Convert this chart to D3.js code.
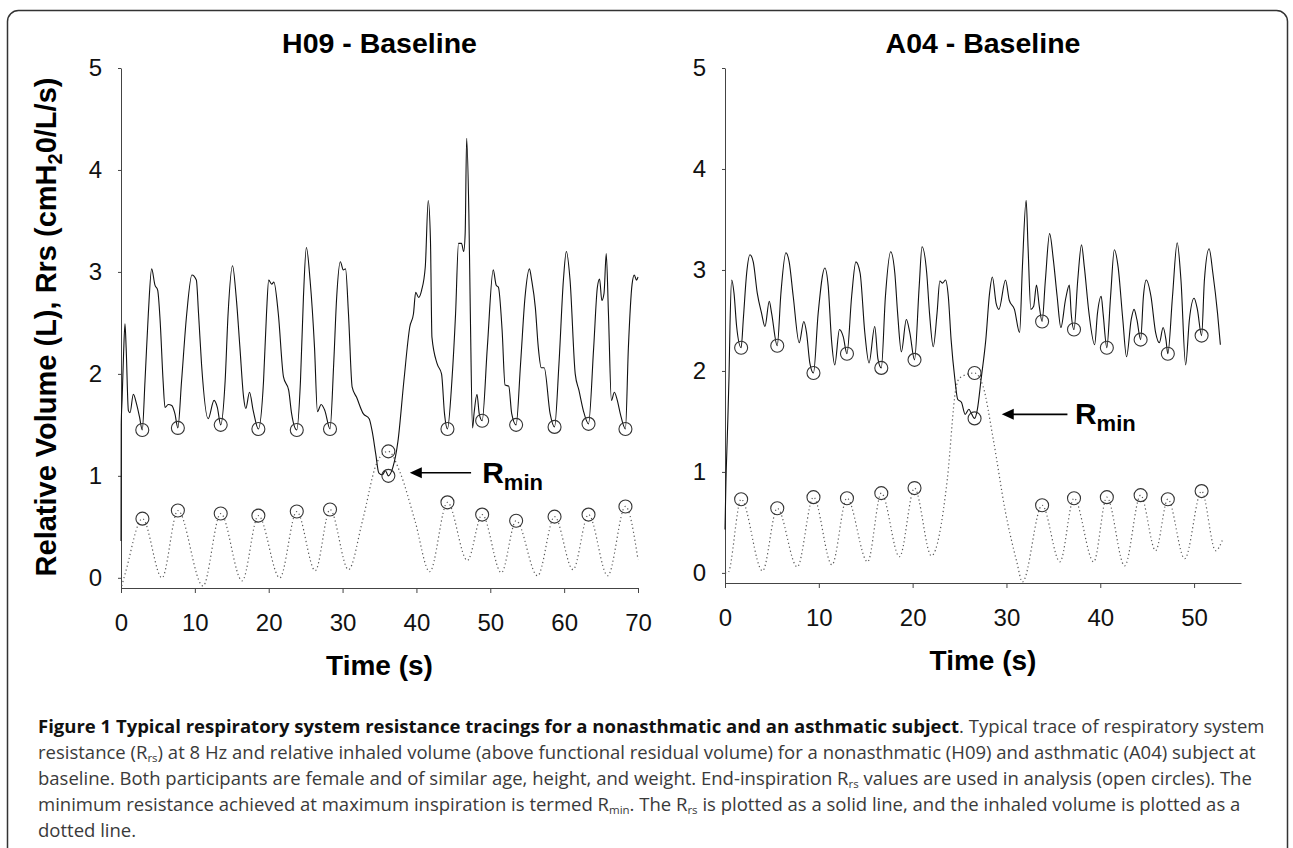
<!DOCTYPE html>
<html>
<head>
<meta charset="utf-8">
<script src="https://cdn.jsdelivr.net/npm/d3@7"></script>
<style>
  body { margin: 0; background: #fff; }
  svg { display: block; }
</style>
</head>
<body>
<div id="chart"></div>
<script>
// ---- data (time in s, value in L or cmH2O/L/s) ----
const yTicks = [0, 1, 2, 3, 4, 5];
const h09Ticks = [0, 10, 20, 30, 40, 50, 60, 70];
const a04Ticks = [0, 10, 20, 30, 40, 50];

// H09 resistance trace (solid)
const h09Rrs = [
  [0, 0.36], [0.03, 1.5], [0.15, 1.75], [0.35, 2.2], [0.54, 2.49], [0.7, 2.25], [1.0, 1.64], [1.22, 1.62],
  [1.67, 1.8], [2.12, 1.7], [2.5, 1.58], [2.88, 1.45], [3.25, 1.93], [3.7, 2.59], [4.15, 3.03], [4.6, 2.87],
  [4.97, 2.82], [5.3, 2.52], [5.7, 1.93], [5.96, 1.67], [6.4, 1.7], [6.87, 1.69], [7.3, 1.61], [7.7, 1.47],
  [8.2, 1.93], [8.9, 2.59], [9.6, 2.97], [10.2, 2.92], [10.5, 2.59], [10.9, 2.1], [11.8, 1.56], [12.6, 1.74],
  [13.05, 1.67], [13.5, 1.5], [14.1, 1.93], [14.5, 2.59], [15.1, 3.06], [15.6, 2.75], [16.1, 2.26], [16.6, 1.77],
  [16.9, 1.66], [17.4, 1.82], [17.9, 1.64], [18.6, 1.46], [19.3, 1.93], [19.7, 2.59], [20.0, 2.92], [20.4, 2.88],
  [20.7, 2.9], [21.3, 2.59], [22.0, 1.97], [22.7, 1.84], [23.1, 1.61], [23.8, 1.45], [24.3, 1.93], [24.7, 2.75],
  [25.1, 3.24], [25.6, 2.92], [26.2, 2.26], [26.6, 1.63], [27.1, 1.7], [27.6, 1.64], [28.3, 1.46], [28.8, 2.1],
  [29.2, 2.75], [29.7, 3.1], [30.1, 3.02], [30.4, 3.03], [30.8, 2.59], [31.3, 1.87], [31.9, 1.77], [32.8, 1.61],
  [33.6, 1.56], [34.0, 1.44], [34.5, 1.21], [34.9, 1.03], [35.4, 1.01], [35.8, 1.05], [36.2, 1.0], [36.8, 1.08],
  [37.5, 1.34], [38.3, 1.93], [39.1, 2.46], [39.6, 2.59], [39.9, 2.8], [40.3, 2.75], [40.7, 2.82], [41.2, 3.05],
  [41.6, 3.7], [41.9, 3.31], [42.1, 2.36], [42.8, 2.1], [43.4, 2.0], [43.8, 1.61], [44.2, 1.46], [44.8, 1.93],
  [45.3, 2.59], [45.7, 3.28], [46.1, 3.28], [46.4, 3.2], [46.6, 3.38], [46.8, 4.31], [47.1, 3.57], [47.3, 2.59],
  [47.6, 1.47], [47.8, 1.61], [48.2, 1.8], [48.5, 1.61], [48.9, 1.54], [49.6, 2.26], [50.4, 3.02], [50.8, 2.87],
  [51.1, 2.85], [51.6, 2.43], [52.0, 1.89], [52.5, 1.88], [52.9, 1.61], [53.5, 1.5], [54.1, 2.1], [54.7, 2.75],
  [55.3, 3.03], [55.6, 2.92], [56.1, 2.65], [56.5, 2.26], [56.9, 2.06], [57.3, 2.06], [58.1, 1.61], [58.7, 1.48],
  [59.3, 2.1], [59.9, 2.92], [60.3, 3.2], [60.8, 2.92], [61.5, 2.0], [62.0, 1.84], [62.6, 1.64], [63.3, 1.51],
  [64.0, 2.26], [64.5, 2.85], [64.8, 2.93], [65.1, 2.72], [65.4, 2.79], [65.7, 3.18], [66.0, 2.59], [66.4, 1.74],
  [66.8, 1.82], [67.2, 1.74], [67.6, 1.61], [68.3, 1.46], [68.7, 2.26], [69.2, 2.88], [69.5, 2.97], [69.8, 2.92],
  [70.0, 2.95]
];
// H09 inhaled volume (dotted)
const h09Vol = [
  [0.1, -0.08], [0.6, 0.05], [2.9, 0.58], [5.55, 0.0], [7.7, 0.66], [11.1, -0.08], [13.5, 0.63], [16.4, -0.03],
  [18.6, 0.61], [21.5, 0.0], [23.8, 0.65], [26.3, 0.07], [28.3, 0.67], [30.8, 0.08], [32.7, 0.56], [34.6, 1.12],
  [35.5, 1.22], [36.2, 1.24], [37.8, 1.03], [39.8, 0.56], [41.8, 0.06], [44.2, 0.74], [46.9, 0.17], [48.9, 0.62],
  [51.5, 0.05], [53.5, 0.56], [56.4, 0.02], [58.7, 0.6], [61.2, 0.08], [63.3, 0.62], [65.9, 0.02], [68.3, 0.7],
  [70.0, 0.18]
];
// H09 end-inspiration points (open circles)
const h09RrsEnd = [[2.88, 1.45], [7.7, 1.47], [13.5, 1.5], [18.6, 1.46], [23.8, 1.45], [28.3, 1.46], [36.2, 1.0],
  [44.2, 1.46], [48.9, 1.54], [53.5, 1.5], [58.7, 1.48], [63.3, 1.51], [68.3, 1.46]];
const h09VolEnd = [[2.9, 0.58], [7.7, 0.66], [13.5, 0.63], [18.6, 0.61], [23.8, 0.65], [28.3, 0.67], [36.2, 1.24],
  [44.2, 0.74], [48.9, 0.62], [53.5, 0.56], [58.7, 0.6], [63.3, 0.62], [68.3, 0.7]];

// A04 resistance trace (solid)
const a04Rrs = [
  [0, 0.43], [0.1, 0.9], [0.25, 1.36], [0.43, 1.95], [0.53, 2.44], [0.71, 2.9], [0.96, 2.77], [1.24, 2.44],
  [1.72, 2.23], [1.95, 2.51], [2.31, 2.97], [2.66, 3.15], [3.01, 3.08], [3.44, 2.77], [3.9, 2.57], [4.26, 2.44],
  [4.72, 2.69], [4.97, 2.57], [5.57, 2.25], [5.96, 2.77], [6.49, 3.17], [6.84, 3.08], [7.27, 2.74], [7.91, 2.28],
  [8.4, 2.49], [8.69, 2.38], [9.04, 2.08], [9.43, 1.98], [9.93, 2.57], [10.64, 3.02], [11.0, 2.84], [11.35, 2.31],
  [11.7, 2.06], [12.2, 2.41], [12.6, 2.34], [13.0, 2.17], [13.5, 2.74], [13.95, 3.08], [14.4, 2.97], [14.9, 2.38],
  [15.35, 2.08], [15.96, 2.44], [16.3, 2.12], [16.66, 2.03], [17.1, 2.74], [17.66, 3.18], [18.1, 2.97], [18.4, 2.57],
  [18.8, 2.19], [19.33, 2.51], [19.7, 2.38], [20.2, 2.11], [20.7, 2.84], [21.0, 3.23], [21.5, 2.97], [21.8, 2.57],
  [22.2, 2.24], [22.6, 2.57], [22.9, 2.89], [23.2, 2.87], [23.5, 2.9], [23.8, 2.74], [24.1, 2.31], [24.5, 1.92],
  [24.8, 1.72], [25.2, 1.69], [25.6, 1.57], [26.0, 1.62], [26.2, 1.59], [26.6, 1.53], [26.9, 1.62], [27.3, 1.92],
  [27.8, 2.31], [28.2, 2.77], [28.5, 2.93], [28.9, 2.67], [29.2, 2.61], [29.9, 2.9], [30.3, 2.7], [30.85, 2.61],
  [31.4, 2.38], [31.7, 3.03], [32.1, 3.69], [32.3, 3.23], [32.6, 2.61], [32.9, 2.64], [33.2, 2.85], [33.5, 2.64],
  [33.8, 2.49], [34.15, 2.9], [34.6, 3.36], [35.0, 3.1], [35.4, 2.74], [35.8, 2.43], [36.3, 2.71], [36.7, 2.85],
  [36.9, 2.57], [37.2, 2.41], [37.6, 2.9], [38.0, 3.25], [38.3, 3.03], [38.8, 2.57], [39.4, 2.26], [39.7, 2.57],
  [40.1, 2.74], [40.3, 2.57], [40.7, 2.23], [41.1, 2.74], [41.5, 3.2], [41.9, 3.03], [42.4, 2.51], [42.8, 2.14],
  [43.3, 2.51], [43.6, 2.61], [43.9, 2.51], [44.3, 2.31], [44.6, 2.74], [44.9, 2.9], [45.4, 2.74], [45.9, 2.38],
  [46.3, 2.28], [46.7, 2.43], [47.0, 2.31], [47.2, 2.17], [47.7, 2.74], [48.2, 3.27], [48.6, 2.9], [49.1, 2.06],
  [49.5, 2.51], [50.0, 2.72], [50.35, 2.61], [50.8, 2.35], [51.1, 2.9], [51.6, 3.21], [52.0, 2.97], [52.5, 2.57],
  [52.8, 2.26]
];
// A04 inhaled volume (dotted)
const a04Vol = [
  [0, 0.0], [0.3, 0.0], [1.72, 0.73], [4.0, 0.02], [5.57, 0.64], [7.7, 0.06], [9.43, 0.75], [11.4, 0.08],
  [13.0, 0.74], [15.2, 0.11], [16.66, 0.79], [18.6, 0.16], [20.2, 0.84], [22.0, 0.17], [23.7, 0.93], [24.6, 1.82],
  [25.0, 1.93], [26.6, 1.98], [27.5, 1.85], [28.6, 1.32], [29.9, 0.6], [31.1, 0.11], [31.7, -0.09], [33.8, 0.67],
  [35.7, 0.11], [37.2, 0.74], [39.3, 0.11], [40.7, 0.75], [42.6, 0.07], [44.3, 0.77], [45.9, 0.22], [47.2, 0.73],
  [49.0, 0.14], [50.8, 0.81], [52.3, 0.22], [53.0, 0.32]
];
const a04RrsEnd = [[1.72, 2.23], [5.57, 2.25], [9.43, 1.98], [13.0, 2.17], [16.66, 2.03], [20.2, 2.11], [26.6, 1.53],
  [33.8, 2.49], [37.2, 2.41], [40.7, 2.23], [44.3, 2.31], [47.2, 2.17], [50.8, 2.35]];
const a04VolEnd = [[1.72, 0.73], [5.57, 0.64], [9.43, 0.75], [13.0, 0.74], [16.66, 0.79], [20.2, 0.84], [26.6, 1.98],
  [33.8, 0.67], [37.2, 0.74], [40.7, 0.75], [44.3, 0.77], [47.2, 0.73], [50.8, 0.81]];

// caption lines: [text, style] segments, style: b = bold, s = subscript
const captionLines = [
  [["Figure 1 Typical respiratory system resistance tracings for a nonasthmatic and an asthmatic subject", "b"], [". Typical trace of respiratory system", ""]],
  [["resistance (R", ""], ["rs", "s"], [") at 8 Hz and relative inhaled volume (above functional residual volume) for a nonasthmatic (H09) and asthmatic (A04) subject at", ""]],
  [["baseline. Both participants are female and of similar age, height, and weight. End-inspiration R", ""], ["rs", "s"], [" values are used in analysis (open circles). The", ""]],
  [["minimum resistance achieved at maximum inspiration is termed R", ""], ["min", "s"], [". The R", ""], ["rs", "s"], [" is plotted as a solid line, and the inhaled volume is plotted as a", ""]],
  [["dotted line.", ""]]
];

const width = 1293, height = 848;
const font = "'Liberation Sans', Arial, sans-serif";

const svg = d3.select("#chart").append("svg").attr("width", width).attr("height", height);

// frame around the figure
svg.append("rect")
  .attr("x", 7.5).attr("y", 10.5)
  .attr("width", 1280).attr("height", 900)
  .attr("rx", 11)
  .attr("fill", "none").attr("stroke", "#333").attr("stroke-width", 1.5);

// layout per panel
const panels = [
  { title: "H09 - Baseline", xMax: 70, ticks: h09Ticks, rrs: h09Rrs, vol: h09Vol, rrsEnd: h09RrsEnd, volEnd: h09VolEnd,
    left: 121, right: 638, top: 68, bottom: 588, arrow: { tip: 39.1, tail: 47.4, v: 1.03, text: 48.9, tv: 0.93 } },
  { title: "A04 - Baseline", xMax: 55, ticks: a04Ticks, rrs: a04Rrs, vol: a04Vol, rrsEnd: a04RrsEnd, volEnd: a04VolEnd,
    left: 725, right: 1241, top: 68, bottom: 583, arrow: { tip: 29.5, tail: 36.5, v: 1.57, text: 37.3, tv: 1.47 } }
];

panels.forEach((p) => {
  const x = d3.scaleLinear().domain([0, p.xMax]).range([p.left, p.right]);
  const y = d3.scaleLinear().domain([-0.1, 5]).range([p.bottom, p.top]);
  const g = svg.append("g");

  // axes
  const xAxis = g.append("g")
    .attr("transform", `translate(0,${p.bottom})`)
    .call(d3.axisBottom(x).tickValues(p.ticks).tickSize(5).tickPadding(21).tickSizeOuter(0));
  const yAxis = g.append("g")
    .attr("transform", `translate(${p.left},0)`)
    .call(d3.axisLeft(y).tickValues(yTicks).tickFormat(d3.format("d")).tickSize(3).tickPadding(16).tickSizeOuter(0));
  [xAxis, yAxis].forEach((a) => {
    a.attr("font-family", font).attr("font-size", 24);
    a.select(".domain").attr("stroke", "#444");
    a.selectAll(".tick line").attr("stroke", "#444");
    a.selectAll(".tick text").attr("fill", "#111");
  });

  // title and x label
  g.append("text")
    .attr("x", (p.left + p.right) / 2).attr("y", 53)
    .attr("text-anchor", "middle")
    .attr("font-family", font).attr("font-size", 28.5).attr("font-weight", "bold")
    .text(p.title);
  g.append("text")
    .attr("x", (p.left + p.right) / 2).attr("y", p.bottom + 87)
    .attr("text-anchor", "middle")
    .attr("font-family", font).attr("font-size", 28).attr("font-weight", "bold")
    .text("Time (s)");

  const line = d3.line().x((d) => x(d[0])).y((d) => y(d[1])).curve(d3.curveMonotoneX);

  // inhaled volume, dotted
  g.append("path")
    .datum(p.vol)
    .attr("d", line)
    .attr("fill", "none").attr("stroke", "#555").attr("stroke-width", 1.2)
    .attr("stroke-dasharray", "1.2,2.8");

  // resistance, solid
  g.append("path")
    .datum(p.rrs)
    .attr("d", line)
    .attr("fill", "none").attr("stroke", "#111").attr("stroke-width", 1.1)
    .attr("stroke-linejoin", "round");

  // end-inspiration circles
  g.append("g")
    .selectAll("circle")
    .data(p.rrsEnd.concat(p.volEnd))
    .join("circle")
    .attr("cx", (d) => x(d[0])).attr("cy", (d) => y(d[1]))
    .attr("r", 6.5)
    .attr("fill", "none").attr("stroke", "#333").attr("stroke-width", 1.1);

  // R_min arrow and label
  const a = p.arrow;
  g.append("line")
    .attr("x1", x(a.tail)).attr("x2", x(a.tip) + 10)
    .attr("y1", y(a.v)).attr("y2", y(a.v))
    .attr("stroke", "#000").attr("stroke-width", 1.6);
  g.append("path")
    .attr("d", `M${x(a.tip)},${y(a.v)} l12,-5.5 l0,11 z`)
    .attr("fill", "#000");
  const rmin = g.append("text")
    .attr("x", x(a.text)).attr("y", y(a.tv))
    .attr("font-family", font).attr("font-weight", "bold").attr("font-size", 30);
  rmin.append("tspan").text("R");
  rmin.append("tspan").attr("font-size", 22).attr("dy", 7).text("min");
});

// shared y axis title
const yTitle = svg.append("text")
  .attr("transform", "translate(56,327) rotate(-90)")
  .attr("text-anchor", "middle")
  .attr("font-family", font).attr("font-size", 29).attr("font-weight", "bold");
yTitle.append("tspan").text("Relative Volume (L), Rrs (cmH");
yTitle.append("tspan").attr("font-size", 20).attr("dy", 6).text("2");
yTitle.append("tspan").attr("dy", -6).text("0/L/s)");

// caption
const capFont = "'Open Sans', 'Noto Sans', sans-serif";
const subDrop = 2.5;
captionLines.forEach((segs, i) => {
  const t = svg.append("text")
    .attr("x", 38).attr("y", 733 + i * 26)
    .attr("font-family", capFont).attr("font-size", 18.5).attr("fill", "#3a3a3a");
  let shift = 0;
  segs.forEach(([txt, st]) => {
    const ts = t.append("tspan").text(txt);
    if (st === "b") ts.attr("font-weight", "bold").attr("fill", "#111");
    if (st === "s") {
      ts.attr("font-size", 11.5).attr("dy", subDrop);
      shift = -subDrop;
    } else if (shift) {
      ts.attr("dy", shift);
      shift = 0;
    }
  });
});
</script>
</body>
</html>
